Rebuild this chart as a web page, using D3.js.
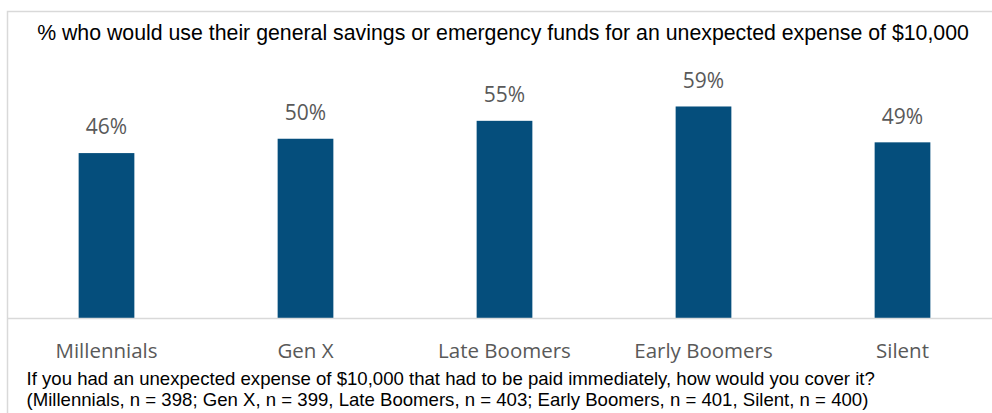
<!DOCTYPE html>
<html>
<head>
<meta charset="utf-8">
<script src="https://cdn.jsdelivr.net/npm/d3@7"></script>
<style>
  html, body { margin: 0; padding: 0; background: #fff; }
  svg { display: block; }
</style>
</head>
<body>
<svg id="chart" width="992" height="413"></svg>
<script>
// Share of each generation that would draw on savings for a $10,000 surprise expense
const categories = ["Millennials", "Gen X", "Late Boomers", "Early Boomers", "Silent"];
const values = [46, 50, 55, 59, 49];
const titleText = "% who would use their general savings or emergency funds for an unexpected expense of $10,000";
const noteLines = [
  "If you had an unexpected expense of $10,000 that had to be paid immediately, how would you cover it?",
  "(Millennials, n = 398; Gen X, n = 399, Late Boomers, n = 403; Early Boomers, n = 401, Silent, n = 400)"
];

const svg = d3.select("#chart");
const frame = { left: 7.5, top: 11.5, right: 1010, bottom: 430 };
const plot = { left: 7, right: 1002, baseline: 318 };

// outer frame of the chart area
svg.append("rect")
  .attr("x", frame.left).attr("y", frame.top)
  .attr("width", frame.right - frame.left).attr("height", frame.bottom - frame.top)
  .attr("fill", "none").attr("stroke", "#d9d9d9").attr("stroke-width", 1.5);

const x = d3.scaleBand().domain(categories).range([plot.left, plot.right]).paddingInner(0.72).paddingOuter(0.36);
const y = d3.scaleLinear().domain([0, 60]).range([plot.baseline, plot.baseline - 215.1]);

svg.append("text")
  .attr("x", 503).attr("y", 40)
  .attr("text-anchor", "middle")
  .attr("font-family", "Liberation Sans, Arial, sans-serif")
  .attr("font-size", 21.3)
  .attr("fill", "#000")
  .text(titleText);

svg.append("g").selectAll("rect")
  .data(values)
  .join("rect")
  .attr("x", (d, i) => x(categories[i]))
  .attr("y", d => y(d))
  .attr("width", x.bandwidth())
  .attr("height", d => y(0) - y(d))
  .attr("fill", "#054E7C");

svg.append("g").selectAll("text")
  .data(values)
  .join("text")
  .attr("x", (d, i) => x(categories[i]) + x.bandwidth() / 2)
  .attr("y", d => y(d) - 18.6)
  .attr("text-anchor", "middle")
  .attr("font-family", "Open Sans, sans-serif")
  .attr("font-size", 21)
  .attr("fill", "#595959")
  .text(d => d + "%");

// category axis along the baseline
const xAxis = svg.append("g")
  .attr("transform", `translate(0,${plot.baseline})`)
  .call(d3.axisBottom(x).tickSize(0).tickPadding(0));
xAxis.select(".domain").remove();
svg.append("line")
  .attr("x1", frame.left).attr("x2", 992)
  .attr("y1", plot.baseline + 0.5).attr("y2", plot.baseline + 0.5)
  .attr("stroke", "#d9d9d9").attr("stroke-width", 1.5);
xAxis.selectAll("text")
  .attr("dy", null)
  .attr("y", 39.7)
  .attr("font-family", "Open Sans, sans-serif")
  .attr("font-size", 20.5)
  .attr("fill", "#595959");

svg.append("g").selectAll("text")
  .data(noteLines)
  .join("text")
  .attr("x", 26.5)
  .attr("y", (d, i) => 385 + i * 21)
  .attr("font-family", "Liberation Sans, Arial, sans-serif")
  .attr("font-size", 18.6)
  .attr("fill", "#000")
  .text(d => d);
</script>
</body>
</html>
